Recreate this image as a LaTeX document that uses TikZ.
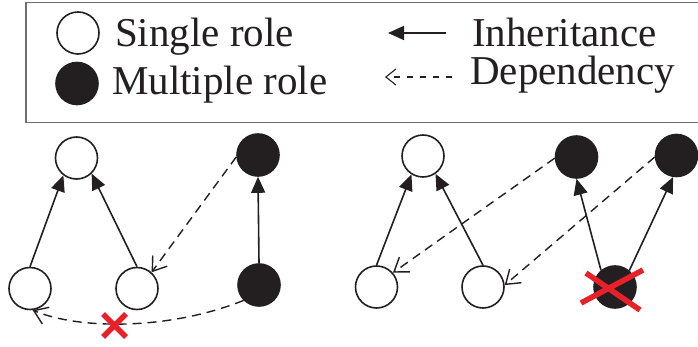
\documentclass[tikz,border=0pt]{standalone}
\usepackage{fontspec}
\setmainfont{Liberation Serif}
\usetikzlibrary{arrows.meta}
\definecolor{ink}{RGB}{35,31,32}
\definecolor{xred}{RGB}{232,32,42}
\definecolor{framegray}{RGB}{110,110,110}
\begin{document}
\begin{tikzpicture}[x=1pt,y=-1pt,
  role/.style={circle, draw=ink, line width=1.6pt, minimum size=42pt, inner sep=0pt},
  single/.style={role, fill=white},
  multi/.style={role, fill=ink},
  inh/.style={draw=ink, line width=1.6pt, -{Triangle[length=16pt,width=14pt]}},
  dep/.style={draw=ink, line width=1.4pt, dash pattern=on 9pt off 6pt, -{Straight Barb[length=13pt,width=18pt,line width=1.4pt]}},
  legdep/.style={draw=ink, line width=1.1pt, dash pattern=on 6pt off 7pt, -{Straight Barb[length=10pt,width=16pt,line width=1.1pt]}},
  cross/.style={draw=xred, line width=5.5pt},
  lbl/.style={font=\fontsize{41}{41}\selectfont, text=ink, anchor=base west, inner sep=0pt}]
\useasboundingbox (0,0) rectangle (698,347);
% legend frame
\draw[framegray, line width=1.4pt] (699,2.5) -- (26,2.5) -- (26,122.5) -- (699,122.5);
\node[single] (ls) at (78,33) {};
\node[multi] (lm) at (77,83.5) {};
\node[lbl] (tsingle) at (115,47) {Single role};
\node[lbl] (tmulti) at (112,95) {Multiple role};
\node[lbl] (tinh) at (472,47) {Inheritance};
\node[lbl] (tdep) at (470,85) {Dependency};
\coordinate (ia0) at (446,33);
\coordinate (ia1) at (388,33);
\coordinate (da0) at (452,77);
\coordinate (da1) at (385,77);
\draw[inh] (ia0) -- (ia1);
\draw[legdep] (da0) -- (da1);
% left diagram
\node[single] (a) at (76.5,158) {};
\node[multi] (b) at (258,155) {};
\node[single] (c) at (30,288.5) {};
\node[single] (d) at (137,288.5) {};
\node[multi] (e) at (259,285) {};
\draw[inh] (c.north) -- (a.233);
\draw[inh] (d.north) -- (a.314);
\draw[inh] (e.north) -- (b.south);
\draw[dep] (b.185) -- (d.48);
\draw[dep] (e.225) .. controls (170,330) and (80,330) .. (c.277);
\coordinate (x1) at (114.5,325.5);
\draw[cross] (x1) ++(-11.5,-11.5) -- ++(23,23) (x1) ++(11.5,-11.5) -- ++(-23,23);
% right diagram
\node[single] (f) at (423,156) {};
\node[multi] (g) at (576.5,157) {};
\node[multi] (h) at (676.5,155.5) {};
\node[single] (i) at (376.5,287) {};
\node[single] (j) at (483,287) {};
\node[multi] (k) at (615,287) {};
\draw[inh] (i.north) -- (f.238);
\draw[inh] (j.north) -- (f.305);
\draw[inh] (k.130) -- (g.270);
\draw[inh] (k.49) -- (h.261);
\draw[dep] (g.183) -- (i.41);
\draw[dep] (h.184) -- (j.5);
\draw[cross] (k) ++(-34,16) -- ++(62,-33) (k) ++(-29,-14) -- ++(54,37);
\end{tikzpicture}
\end{document}
